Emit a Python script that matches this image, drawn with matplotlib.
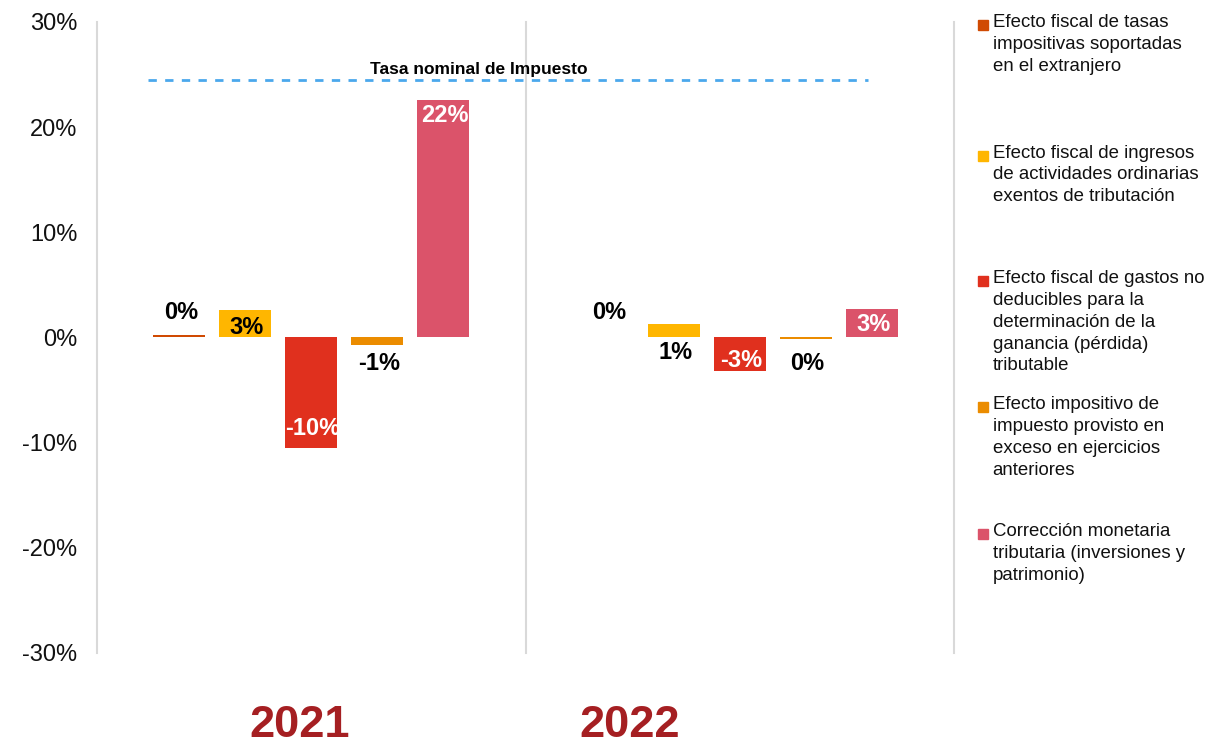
import matplotlib
matplotlib.use("Agg")
import matplotlib.pyplot as plt
from matplotlib.patches import Rectangle
import numpy as np

plt.rcParams['font.family'] = ['Liberation Sans', 'DejaVu Sans']

# data
years = ["2021", "2022"]
series_names = [
    "Efecto fiscal de tasas\nimpositivas soportadas\nen el extranjero",
    "Efecto fiscal de ingresos\nde actividades ordinarias\nexentos de tributación",
    "Efecto fiscal de gastos no\ndeducibles para la\ndeterminación de la\nganancia (pérdida)\ntributable",
    "Efecto impositivo de\nimpuesto provisto en\nexceso en ejercicios\nanteriores",
    "Corrección monetaria\ntributaria (inversiones y\npatrimonio)",
]
colors = ["#D04A02", "#FFB600", "#E0301E", "#EB8C00", "#DB536A"]
# values per series: [2021, 2022]
values = [
    [0.002, 0.0],
    [0.026, 0.013],
    [-0.105, -0.032],
    [-0.007, -0.001],
    [0.226, 0.027],
]
labels = [
    ["0%", "0%"],
    ["3%", "1%"],
    ["-10%", "-3%"],
    ["-1%", "0%"],
    ["22%", "3%"],
]
label_y = [
    [0.024, 0.024],
    [0.0095, -0.0143],
    [-0.087, -0.022],
    [-0.025, -0.025],
    [0.211, 0.0124],
]
label_colors = [
    ["black", "black"],
    ["black", "black"],
    ["white", "white"],
    ["black", "black"],
    ["white", "white"],
]
nominal_rate = 0.245

fig = plt.figure(figsize=(12.24, 7.45), dpi=100)
ax = fig.add_axes([0.0793, 0.1235, 0.7001, 0.847])

x = np.arange(len(years))
width = 0.121
step = 0.154
for i, (vals, c) in enumerate(zip(values, colors)):
    pos = x + (i - 2) * step
    ax.bar(pos, vals, width=width, color=c, zorder=3)
    for j in range(len(years)):
        ax.text(pos[j] + 0.004, label_y[i][j], labels[i][j], ha="center", va="center",
                fontsize=17, fontweight="bold", color=label_colors[i][j], zorder=4)

# nominal rate line
ax.plot([-0.38, 1.30], [nominal_rate, nominal_rate], color="#4BA8EC", lw=2,
        linestyle=(0, (3, 3)), zorder=2)
ax.text(0.39, nominal_rate + 0.003, "Tasa nominal de Impuesto", ha="center",
        va="bottom", fontsize=12.5, fontweight="bold")

ax.set_xlim(-0.5, 1.5)
ax.set_ylim(-0.3, 0.3)
ax.set_yticks(np.arange(-0.3, 0.31, 0.1))
ax.set_yticklabels([f"{v:.0f}%" for v in np.arange(-30, 31, 10)], fontsize=17,
                   color="#111111")
ax.tick_params(axis="y", length=0, pad=14)
ax.set_xticks([])
for s in ["top", "bottom", "right"]:
    ax.spines[s].set_visible(False)
ax.spines["left"].set_color("#D9D9D9")
ax.spines["left"].set_linewidth(1.5)
for sep in [0.5, 1.5]:
    ax.axvline(sep, color="#D9D9D9", lw=1.5, zorder=1, clip_on=False)

# year labels (sit slightly left of the group centres, like the original)
for xf, yr in zip([0.245, 0.514], years):
    fig.text(xf, 0.026, yr, ha="center", va="center",
             fontsize=32.5, fontweight="bold", color="#A51F22")

# legend drawn by hand
entry_top = [0.981, 0.806, 0.638, 0.468, 0.298]
for name, c, yt in zip(series_names, colors, entry_top):
    fig.patches.append(Rectangle((0.799, yt - 0.0215), 0.0082, 0.0134,
                                 transform=fig.transFigure, color=c))
    fig.text(0.811, yt, name, ha="left", va="top", fontsize=13.4,
             linespacing=1.38, color="#111111")

fig.savefig("out.png", dpi=100)
